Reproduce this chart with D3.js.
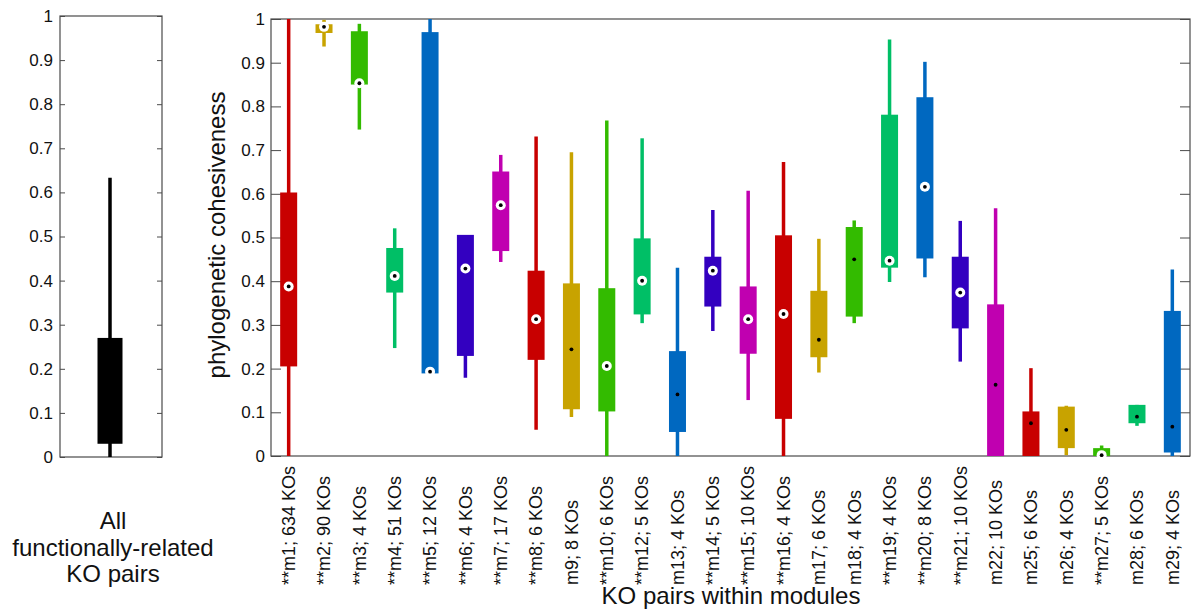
<!DOCTYPE html>
<html>
<head>
<meta charset="utf-8">
<script src="https://cdn.jsdelivr.net/npm/d3@7"></script>
<style>
  html, body { margin: 0; padding: 0; background: #fff; }
  svg { display: block; font-family: "Liberation Sans", Arial, sans-serif; }
</style>
</head>
<body>
<svg id="chart" width="1193" height="609"></svg>
<script>
// Module labels along the x axis
const modules = ["**m1; 634 KOs", "**m2; 90 KOs", "**m3; 4 KOs", "**m4; 51 KOs", "**m5; 12 KOs",
  "**m6; 4 KOs", "**m7; 17 KOs", "**m8; 6 KOs", "m9; 8 KOs", "**m10; 6 KOs", "**m12; 5 KOs",
  "m13; 4 KOs", "**m14; 5 KOs", "**m15; 10 KOs", "**m16; 4 KOs", "m17; 6 KOs", "m18; 4 KOs",
  "**m19; 4 KOs", "**m20; 8 KOs", "**m21; 10 KOs", "m22; 10 KOs", "m25; 6 KOs", "m26; 4 KOs",
  "**m27; 5 KOs", "m28; 6 KOs", "m29; 4 KOs"];

// Box statistics per module
const whiskerLow  = [0.000, 0.937, 0.747, 0.247, 0.189, 0.179, 0.444, 0.060, 0.089, 0.000, 0.304,
  0.000, 0.286, 0.128, 0.000, 0.191, 0.304, 0.398, 0.409, 0.216, 0.000, 0.000, 0.002, 0.000, 0.069, 0.000];
const boxLow      = [0.205, 0.968, 0.850, 0.374, 0.189, 0.229, 0.469, 0.220, 0.107, 0.102, 0.324,
  0.055, 0.342, 0.234, 0.085, 0.226, 0.319, 0.431, 0.452, 0.292, 0.000, 0.000, 0.018, 0.000, 0.075, 0.008];
const medians     = [0.388, 0.982, 0.853, 0.412, 0.193, 0.429, 0.574, 0.313, 0.244, 0.206, 0.401,
  0.141, 0.424, 0.313, 0.325, 0.266, 0.450, 0.447, 0.616, 0.374, 0.163, 0.075, 0.060, 0.002, 0.090, 0.067];
const boxHigh     = [0.603, 0.988, 0.972, 0.476, 0.970, 0.506, 0.651, 0.424, 0.395, 0.384, 0.498,
  0.240, 0.456, 0.388, 0.505, 0.378, 0.524, 0.781, 0.821, 0.456, 0.347, 0.102, 0.113, 0.018, 0.117, 0.332];
const whiskerHigh = [1.000, 0.998, 0.989, 0.521, 1.000, 0.506, 0.689, 0.731, 0.695, 0.768, 0.727,
  0.431, 0.563, 0.607, 0.673, 0.497, 0.539, 0.953, 0.902, 0.538, 0.567, 0.201, 0.115, 0.024, 0.117, 0.427];

// Summary of all functionally-related KO pairs
const allPairs = { whiskerLow: 0.0, boxLow: 0.03, boxHigh: 0.27, whiskerHigh: 0.633 };

// Repeating colour cycle
const palette = ["#c80000", "#c8a300", "#33bb00", "#00bf66", "#0068c0", "#3300c0", "#c000b0"];

const yTicks = [0, 0.1, 0.2, 0.3, 0.4, 0.5, 0.6, 0.7, 0.8, 0.9, 1];
const yTickLabels = ["0", "0.1", "0.2", "0.3", "0.4", "0.5", "0.6", "0.7", "0.8", "0.9", "1"];

const svg = d3.select("#chart");
const axisColor = "#4a4a4a";

// ---------- left panel: all pairs ----------
const L = { left: 60, right: 162, top: 16, bottom: 457 };
const yL = d3.scaleLinear().domain([0, 1]).range([L.bottom, L.top]);
const gL = svg.append("g");

gL.append("rect").attr("x", L.left).attr("y", L.top)
  .attr("width", L.right - L.left).attr("height", L.bottom - L.top)
  .attr("fill", "none").attr("stroke", axisColor).attr("stroke-width", 1.2);

gL.append("g").attr("transform", `translate(${L.left},0)`)
  .call(d3.axisLeft(yL).tickValues(yTicks).tickFormat((d, i) => yTickLabels[i]).tickSizeInner(-5).tickSizeOuter(0).tickPadding(7))
  .call(g => g.select(".domain").remove())
  .call(g => g.selectAll("line").attr("stroke", axisColor))
  .call(g => g.selectAll("text").attr("font-size", 17).attr("fill", "#111").attr("font-family", "Liberation Sans, Arial, sans-serif"));
gL.append("g").attr("transform", `translate(${L.right},0)`)
  .call(d3.axisRight(yL).tickValues(yTicks).tickFormat("").tickSizeInner(-5).tickSizeOuter(0))
  .call(g => g.select(".domain").remove())
  .call(g => g.selectAll("line").attr("stroke", axisColor));

const cxL = 110;
gL.append("line").attr("x1", cxL).attr("x2", cxL)
  .attr("y1", yL(allPairs.whiskerLow)).attr("y2", yL(allPairs.whiskerHigh))
  .attr("stroke", "#000").attr("stroke-width", 3.5);
gL.append("rect").attr("x", cxL - 12.5).attr("width", 25)
  .attr("y", yL(allPairs.boxHigh)).attr("height", yL(allPairs.boxLow) - yL(allPairs.boxHigh))
  .attr("fill", "#000");

const caption = gL.append("text").attr("text-anchor", "middle").attr("font-size", 24).attr("fill", "#111");
["All", "functionally-related", "KO pairs"].forEach((t, i) => {
  caption.append("tspan").attr("x", 113).attr("y", 529 + i * 26.5).text(t);
});

// ---------- main panel: modules ----------
const M = { left: 271, right: 1190, top: 19, bottom: 456 };
const x = d3.scaleLinear().domain([0.5, modules.length + 0.5]).range([M.left, M.right]);
const y = d3.scaleLinear().domain([0, 1]).range([M.bottom, M.top]);
const g = svg.append("g");

g.append("rect").attr("x", M.left).attr("y", M.top)
  .attr("width", M.right - M.left).attr("height", M.bottom - M.top)
  .attr("fill", "none").attr("stroke", axisColor).attr("stroke-width", 1.2);

g.append("g").attr("transform", `translate(${M.left},0)`)
  .call(d3.axisLeft(y).tickValues(yTicks).tickFormat((d, i) => yTickLabels[i]).tickSizeInner(-10).tickSizeOuter(0).tickPadding(6))
  .call(a => a.select(".domain").remove())
  .call(a => a.selectAll("line").attr("stroke", axisColor))
  .call(a => a.selectAll("text").attr("font-size", 17).attr("fill", "#111").attr("font-family", "Liberation Sans, Arial, sans-serif"));
g.append("g").attr("transform", `translate(${M.right},0)`)
  .call(d3.axisRight(y).tickValues(yTicks).tickFormat("").tickSizeInner(-10).tickSizeOuter(0))
  .call(a => a.select(".domain").remove())
  .call(a => a.selectAll("line").attr("stroke", axisColor));

const data = modules.map((name, i) => ({
  name, i,
  wl: whiskerLow[i], bl: boxLow[i], med: medians[i], bh: boxHigh[i], wh: whiskerHigh[i],
  sig: name.startsWith("**"),
  color: palette[i % palette.length]
}));

const boxW = 17;
const items = g.append("g").selectAll("g").data(data).join("g")
  .attr("transform", d => `translate(${x(d.i + 1)},0)`);

items.append("line")
  .attr("y1", d => y(d.wl)).attr("y2", d => y(d.wh))
  .attr("stroke", d => d.color).attr("stroke-width", 3.5);
items.append("rect")
  .attr("x", -boxW / 2).attr("width", boxW)
  .attr("y", d => y(d.bh)).attr("height", d => Math.max(0, y(d.bl) - y(d.bh)))
  .attr("fill", d => d.color);
items.filter(d => d.sig).append("circle")
  .attr("cy", d => y(d.med)).attr("r", 5)
  .attr("fill", "#fff");
items.append("circle")
  .attr("cy", d => y(d.med)).attr("r", 1.9)
  .attr("fill", "#000");

// rotated module labels
g.append("g").selectAll("text").data(data).join("text")
  .attr("transform", d => `translate(${x(d.i + 1)},585) rotate(-90)`)
  .attr("dy", "0.35em")
  .attr("text-anchor", "start")
  .attr("font-size", 18).attr("fill", "#111")
  .text(d => d.name);

// axis titles
g.append("text")
  .attr("transform", "translate(225,235) rotate(-90)")
  .attr("text-anchor", "middle").attr("font-size", 24).attr("fill", "#111")
  .text("phylogenetic cohesiveness");
g.append("text")
  .attr("x", 731).attr("y", 604)
  .attr("text-anchor", "middle").attr("font-size", 24).attr("fill", "#111")
  .text("KO pairs within modules");
</script>
</body>
</html>
